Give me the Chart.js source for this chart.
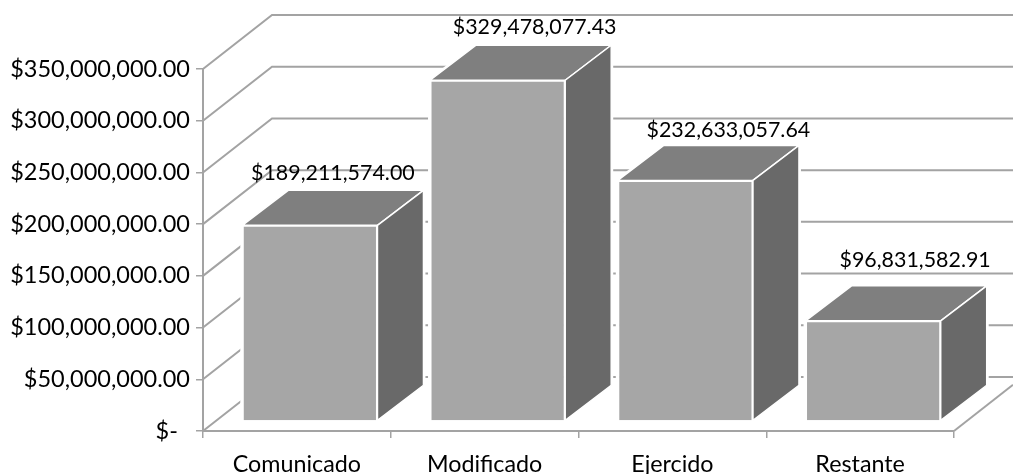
<!DOCTYPE html>
<html>
<head>
<meta charset="utf-8">
<style>html,body{margin:0;padding:0;background:#fff}canvas{display:block}</style>
<script src="https://cdn.jsdelivr.net/npm/chart.js@4"></script>
</head>
<body>
<canvas id="c" width="1013" height="474"></canvas>
<script>
const categories = ["Comunicado", "Modificado", "Ejercido", "Restante"];
const values = [189211574.00, 329478077.43, 232633057.64, 96831582.91];
const yTicks = {0:"$-  ",50000000:"$50,000,000.00",100000000:"$100,000,000.00",150000000:"$150,000,000.00",200000000:"$200,000,000.00",250000000:"$250,000,000.00",300000000:"$300,000,000.00",350000000:"$350,000,000.00"};

const FONT = "Lato, Carlito, sans-serif";
const WALL = {dx: 69, dy: -54};
const BAR_SHIFT = {x: 13, y: -10};
const DEPTH = {dx: 46, dy: -35};
const LABEL_OFFSET = [{x:36,y:-62},{x:50,y:-63},{x:56,y:-60},{x:55,y:-71}];

function poly(ctx, pts, fill, stroke, lw) {
  ctx.beginPath();
  pts.forEach((p, i) => i ? ctx.lineTo(p[0], p[1]) : ctx.moveTo(p[0], p[1]));
  ctx.closePath();
  if (fill) { ctx.fillStyle = fill; ctx.fill(); }
  if (stroke) { ctx.strokeStyle = stroke; ctx.lineWidth = lw; ctx.lineJoin = "miter"; ctx.stroke(); }
}

const walls = {
  id: "walls",
  beforeDatasetsDraw(chart) {
    const {ctx, scales: {y}, chartArea: a, width} = chart;
    ctx.save();
    ctx.strokeStyle = "#a3a3a3";
    ctx.lineWidth = 2;
    y.ticks.forEach(t => {
      const py = y.getPixelForValue(t.value);
      ctx.beginPath();
      ctx.moveTo(a.left, py);
      ctx.lineTo(a.left + WALL.dx, py + WALL.dy);
      ctx.lineTo(width, py + WALL.dy);
      ctx.stroke();
    });
    const b = y.getPixelForValue(0);
    const k = (width - a.right) / WALL.dx;
    ctx.beginPath();
    ctx.moveTo(a.right, b);
    ctx.lineTo(width, b + WALL.dy * k);
    ctx.stroke();
    ctx.restore();
  }
};

const box3d = {
  id: "box3d",
  beforeDatasetDraw(chart) {
    const ctx = chart.ctx;
    const meta = chart.getDatasetMeta(0);
    ctx.save();
    ctx.translate(BAR_SHIFT.x, BAR_SHIFT.y);
    meta.data.forEach(bar => {
      const l = bar.x - bar.width / 2, r = bar.x + bar.width / 2, t = bar.y, b = bar.base;
      const d = DEPTH;
      poly(ctx, [[l,t],[r,t],[r,b],[r+d.dx,b+d.dy],[r+d.dx,t+d.dy],[l+d.dx,t+d.dy],[l,t],[l,b],[r,b]], null, "#ffffff", 4);
      poly(ctx, [[l,t],[l+d.dx,t+d.dy],[r+d.dx,t+d.dy],[r,t]], "#7f7f7f", "#ffffff", 1.5);
      poly(ctx, [[r,t],[r+d.dx,t+d.dy],[r+d.dx,b+d.dy],[r,b]], "#696969", "#ffffff", 1.5);
    });
  },
  afterDatasetDraw(chart) {
    chart.ctx.restore();
  }
};

const valueLabels = {
  id: "valueLabels",
  afterDraw(chart) {
    const ctx = chart.ctx;
    ctx.save();
    ctx.font = "21.4px " + FONT;
    ctx.fillStyle = "#000";
    ctx.textAlign = "center";
    ctx.textBaseline = "middle";
    chart.getDatasetMeta(0).data.forEach((bar, i) => {
      const txt = "$" + values[i].toLocaleString("en-US", {minimumFractionDigits: 2, maximumFractionDigits: 2});
      ctx.fillText(txt, bar.x + LABEL_OFFSET[i].x, bar.y + LABEL_OFFSET[i].y);
    });
    ctx.restore();
  }
};

new Chart(document.getElementById("c"), {
  type: "bar",
  data: {
    labels: categories,
    datasets: [{
      data: values,
      backgroundColor: "#a6a6a6",
      borderColor: "#ffffff",
      borderWidth: 1.5,
      barPercentage: 0.72,
      categoryPercentage: 1
    }]
  },
  plugins: [walls, box3d, valueLabels],
  options: {
    responsive: false,
    animation: false,
    devicePixelRatio: 1,
    layout: {padding: {top: 69, right: 59, left: 0, bottom: 0}},
    plugins: {legend: {display: false}, tooltip: {enabled: false}, title: {display: false}},
    scales: {
      x: {
        afterFit(s) { s.height = 43; },
        grid: {display: true, drawOnChartArea: false, drawTicks: true, tickLength: 7, color: "#a3a3a3", lineWidth: 1.5},
        border: {display: true, color: "#a3a3a3", width: 2},
        ticks: {color: "#000", font: {family: FONT, size: 23.3}, padding: 12, maxRotation: 0, autoSkip: false}
      },
      y: {
        min: 0,
        max: 350000000,
        afterFit(s) { s.width = 203; },
        grid: {display: true, drawOnChartArea: false, drawTicks: true, tickLength: 7, color: "#a3a3a3", lineWidth: 1.5},
        border: {display: true, color: "#a3a3a3", width: 2},
        ticks: {
          stepSize: 50000000,
          color: "#000",
          font: {family: FONT, size: 23.5},
          padding: 6,
          callback: v => yTicks[v]
        }
      }
    }
  }
});
</script>
</body>
</html>
